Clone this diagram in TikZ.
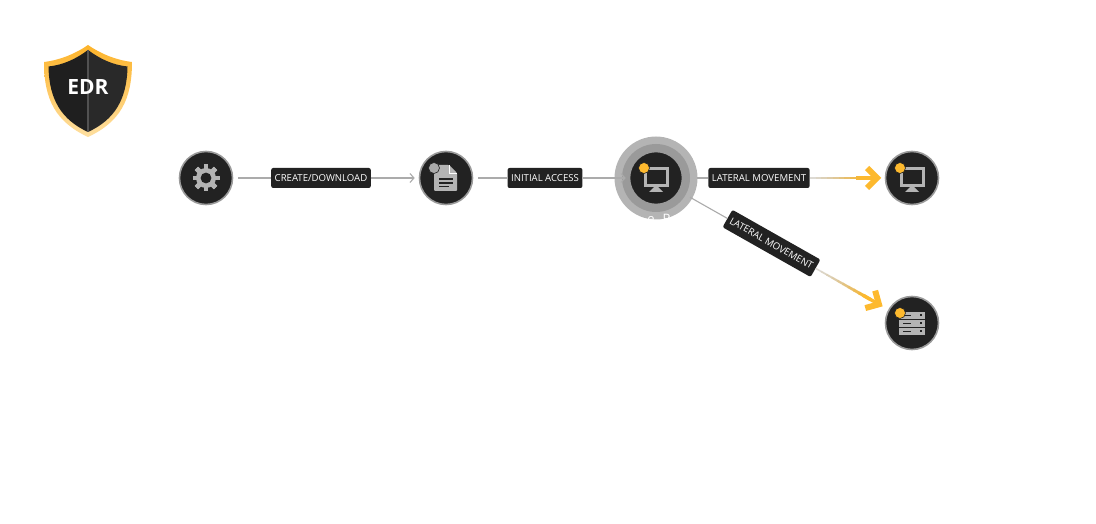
\documentclass[tikz,border=0pt]{standalone}
\usepackage{fontspec}
\setmainfont{Open Sans}
\usetikzlibrary{arrows.meta,calc,positioning}
\definecolor{nodedark}{HTML}{222222}
\definecolor{edgegray}{HTML}{ABABAB}
\definecolor{icongray}{HTML}{B4B4B4}
\definecolor{alertgold}{HTML}{FDB92E}

\tikzset{
host/.style={circle, draw=edgegray!90!black, fill=nodedark, line width=1.6pt, minimum size=53pt, inner sep=0pt},
edgelabel/.style={rectangle, rounded corners=2pt, fill=nodedark, text=white, font=\fontsize{9.6}{10}\selectfont, minimum height=20pt, inner sep=3.5pt},
link/.style={edgegray, line width=1.1pt},
alert/.style={alertgold, line width=3.4pt},
dot/.style={circle, draw=nodedark, line width=.6pt, fill=#1, minimum size=11pt, inner sep=0pt},
pics/chevron/.style={code={
  \draw[alertgold, line width=6pt, line join=miter] (-15,-10) -- (-5,0) -- (-15,10);
}},
pics/monitor/.style={code={
  \draw[icongray, line width=3pt] (-11,-9.5) rectangle (11,7.5);
  \fill[icongray] (-2,9) -- (2,9) -- (7,14) -- (-7,14) -- cycle;
}},
pics/server/.style={code={
  \foreach \y in {-11,-3,5} {
    \fill[icongray] (-13,\y) rectangle (13,\y+6.5);
    \draw[nodedark, line width=1pt] (-9,\y+3.2) -- (-1,\y+3.2);
    \fill[nodedark] (7.5,\y+2.2) rectangle (9.5,\y+4.2);
  }
}},
pics/gear/.style={code={
  \foreach \a in {0,45,...,315} {
    \fill[icongray, rotate=\a] (-2.4,-13.5) rectangle (2.4,13.5);
  }
  \fill[icongray] (0,0) circle (10);
  \fill[nodedark] (0,0) circle (5.4);
}},
pics/document/.style={code={
  \fill[icongray, rounded corners=1pt] (-12,-13) -- (3,-13) -- (11,-5) -- (11,13) -- (-12,13) -- cycle;
  \draw[white, line width=.9pt] (3,-13) -- (3,-5) -- (11,-5);
  \foreach \y/\r in {1/7,5/7,8.5/3} {
    \draw[nodedark, line width=1.3pt] (-7,\y) -- (\r,\y);
  }
}},
}

\begin{document}
\begin{tikzpicture}[x=1pt, y=-1pt]
\useasboundingbox (0,0) rectangle (1096,524);

%Shield
\shade[top color=alertgold!90!orange, bottom color=alertgold!45!white]
  (88,45) .. controls (75,54) and (60,60) .. (44,62) .. controls (44,100) and (56,122) .. (88,137)
  .. controls (120,122) and (132,100) .. (132,62) .. controls (116,60) and (101,54) .. (88,45) -- cycle;
\fill[black!88] (88,50) .. controls (76,59) and (63,65) .. (48.5,66.5) .. controls (49,100) and (62,120) .. (88,132) -- cycle;
\fill[black!84] (88,50) .. controls (100,59) and (113,65) .. (127.5,66.5) .. controls (127,100) and (114,120) .. (88,132) -- cycle;
\draw[black!68, line width=1.4pt] (88,50) -- (88,132);
\node[text=white, font=\fontsize{21}{21}\selectfont\bfseries] (edr) at (88,87) {EDR};

%Halo
\fill[edgegray!90] (656,178) circle (41.5);
\fill[edgegray!90!black] (656,178) circle (34);
\node[text=white, font=\fontsize{13}{13}\selectfont] (patientname) at (659,219) {e. R};

%Nodes
\node[host] (tool)    at (206,178) {};
\node[host] (dropper) at (446,178) {};
\node[host] (patient) at (656,178) {};
\node[host] (desktop) at (912,178) {};
\node[host] (server)  at (912,323) {};

%Icons
\pic at (tool) {gear};
\pic at (dropper) {document};
\pic at (patient) {monitor};
\pic at (desktop) {monitor};
\pic at (server) {server};
\node[dot=edgegray] (dropperdot) at (434,168) {};
\node[dot=alertgold] (patientdot) at (644,168) {};
\node[dot=alertgold] (desktopdot) at (900,168) {};
\node[dot=alertgold] (serverdot)  at (900,313) {};

%Labels
\node[edgelabel] (create)  at (321,178) {CREATE/DOWNLOAD};
\node[edgelabel] (access)  at (545,178) {INITIAL ACCESS};
\node[edgelabel] (lateral) at (759,178) {LATERAL MOVEMENT};
\node[edgelabel, rotate=-29.5] (lateraldown) at (771.5,243.4) {LATERAL MOVEMENT};

%Lines
\draw[link] ($(tool.east)+(5,0)$) -- (create.west);
\draw[link, -{Straight Barb[length=4pt,width=9pt]}] (create.east) -- ($(dropper.west)+(-4,0)$);
\draw[link] ($(dropper.east)+(5,0)$) -- (access.west);
\draw[link, -{Straight Barb[length=4pt,width=9pt]}] (access.east) -- ($(patient.west)+(-3,0)$);
\draw[link] ($(patient.east)+(14,0)$) -- (lateral.west);
\draw[link] ($(patient)!39pt!(server)$) -- (lateraldown.west);

%Yellow lines
\coordinate (desktoptip) at ($(desktop)!30pt!(patient)$);
\coordinate (servertip) at ($(server)!33pt!(patient)$);
\foreach \t in {0,1,...,9} {
  \pgfmathsetmacro{\mixval}{\t*10+10}
  \pgfmathsetmacro{\fadeval}{min(100,45+\t*7)}
  \draw[alertgold!\mixval!edgegray!\fadeval!white, line width=1.5pt+\t*.2pt]
    ($(lateral.east)!\t*.08!(desktoptip)$) -- ($(lateral.east)!\t*.08+.09!(desktoptip)$);
  \draw[alertgold!\mixval!edgegray!\fadeval!white, line width=1.5pt+\t*.2pt]
    ($(lateraldown.east)!\t*.08!(servertip)$) -- ($(lateraldown.east)!\t*.08+.09!(servertip)$);
}
\draw[alert] ($(lateral.east)!.7!(desktoptip)$) -- ($(desktoptip)+(-6,0)$);
\draw[alert] ($(lateraldown.east)!.7!(servertip)$) -- ($(servertip)!6pt!(lateraldown.east)$);
\pic at (desktoptip) {chevron};
\pic[rotate=-29.5] at (servertip) {chevron};
\end{tikzpicture}
\end{document}
